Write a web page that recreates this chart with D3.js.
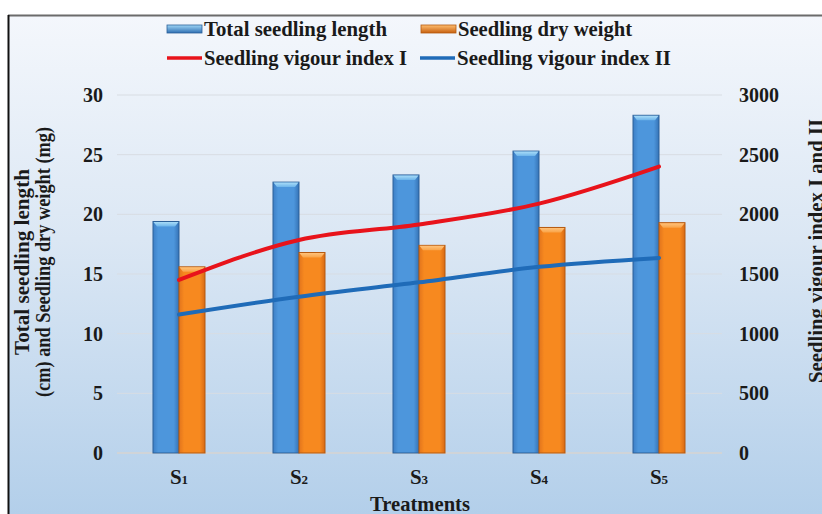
<!DOCTYPE html>
<html>
<head>
<meta charset="utf-8">
<script src="https://cdn.jsdelivr.net/npm/d3@7"></script>
<style>
  html, body { margin: 0; padding: 0; background: #ffffff; }
  svg { display: block; }
  text { font-family: "Liberation Serif", "Times New Roman", serif; font-weight: bold; fill: #1a1a1a; }
</style>
</head>
<body>
<svg id="chart" width="822" height="514"></svg>
<script>
// ---- data ----
const categories = ["S1", "S2", "S3", "S4", "S5"];
const categorySubs = ["1", "2", "3", "4", "5"];
const totalSeedlingLength = [19.4, 22.7, 23.3, 25.3, 28.3];
const seedlingDryWeight = [15.6, 16.8, 17.4, 18.9, 19.3];
const vigourIndexI = [1450, 1785, 1915, 2090, 2400];
const vigourIndexII = [1160, 1310, 1430, 1560, 1635];
const leftTicks = [0, 5, 10, 15, 20, 25, 30];
const rightTicks = [0, 500, 1000, 1500, 2000, 2500, 3000];
const barSeries = ["Total seedling length", "Seedling dry weight"];
const lineSeries = ["Seedling vigour index I", "Seedling vigour index II"];

const svg = d3.select("#chart");
const W = 822, H = 514;
const plot = { left: 119, right: 719, top: 95, bottom: 453 };

const defs = svg.append("defs");
const bg = defs.append("linearGradient").attr("id", "bg").attr("x1", 0).attr("y1", 0).attr("x2", 0).attr("y2", 1);
bg.append("stop").attr("offset", "0%").attr("stop-color", "#f4f7fc");
bg.append("stop").attr("offset", "45%").attr("stop-color", "#dbe7f4");
bg.append("stop").attr("offset", "100%").attr("stop-color", "#b3cfea");

function barGrad(id, c0, c1, c2) {
  const g = defs.append("linearGradient").attr("id", id).attr("x1", 0).attr("y1", 0).attr("x2", 1).attr("y2", 0);
  g.append("stop").attr("offset", "0%").attr("stop-color", c0);
  g.append("stop").attr("offset", "20%").attr("stop-color", c1);
  g.append("stop").attr("offset", "80%").attr("stop-color", c1);
  g.append("stop").attr("offset", "100%").attr("stop-color", c2);
}
barGrad("gBlue", "#3d7fc6", "#4d96dc", "#3573b6");
barGrad("gOrange", "#e2741c", "#f7891f", "#d86a14");
function capGrad(id, c0, c1) {
  const g = defs.append("linearGradient").attr("id", id).attr("x1", 0).attr("y1", 0).attr("x2", 0).attr("y2", 1);
  g.append("stop").attr("offset", "0%").attr("stop-color", c0);
  g.append("stop").attr("offset", "100%").attr("stop-color", c1);
}
capGrad("cBlue", "#a8dcf8", "#6cb4ea");
capGrad("cOrange", "#ffc27a", "#f9a347");
capGrad("gBlueL", "#9fd6f6", "#2f6fb2");
capGrad("gOrangeL", "#ffbe70", "#c7600f");

// background and frame
svg.append("rect").attr("x", 8).attr("y", 15).attr("width", W - 8).attr("height", H - 15).attr("fill", "url(#bg)");
svg.append("line").attr("x1", 8).attr("x2", W).attr("y1", 15.5).attr("y2", 15.5).attr("stroke", "#6b6b6b").attr("stroke-width", 2);
svg.append("line").attr("x1", 8.5).attr("x2", 8.5).attr("y1", 15).attr("y2", H).attr("stroke", "#111").attr("stroke-width", 2);

// scales
const x = d3.scaleBand().domain(categories).range([plot.left, plot.right]).paddingInner(0.5667).paddingOuter(0.2833);
const xs = d3.scaleBand().domain(barSeries).range([0, x.bandwidth()]);
const yL = d3.scaleLinear().domain([0, 30]).range([plot.bottom, plot.top]);
const yR = d3.scaleLinear().domain([0, 3000]).range([plot.bottom, plot.top]);

// gridlines
svg.append("g").selectAll("line").data(leftTicks).join("line")
  .attr("x1", plot.left - 2).attr("x2", plot.right + 3)
  .attr("y1", d => yL(d)).attr("y2", d => yL(d))
  .attr("stroke", d => d === 0 ? "#d0d4d8" : "#d8dde3").attr("stroke-width", d => d === 0 ? 2 : 1);

// left axis
const axL = d3.axisLeft(yL).tickValues(leftTicks).tickSize(0).tickPadding(0).tickFormat(d3.format("d"));
const gL = svg.append("g").attr("transform", `translate(103,0)`).call(axL);
gL.select(".domain").remove();
gL.selectAll("text").attr("font-size", 20).attr("fill", "#1a1a1a").attr("font-family", "Liberation Serif").attr("font-weight", "bold");

// right axis
const axR = d3.axisRight(yR).tickValues(rightTicks).tickSize(0).tickPadding(0).tickFormat(d3.format("d"));
const gR = svg.append("g").attr("transform", `translate(739,0)`).call(axR);
gR.select(".domain").remove();
gR.selectAll("text").attr("font-size", 20).attr("fill", "#1a1a1a").attr("font-family", "Liberation Serif").attr("font-weight", "bold");

// bars
const barData = [];
categories.forEach((c, i) => {
  barData.push({ cat: c, s: barSeries[0], v: totalSeedlingLength[i], fill: "url(#gBlue)", cap: "url(#cBlue)", edge: "#2c6099" });
  barData.push({ cat: c, s: barSeries[1], v: seedlingDryWeight[i], fill: "url(#gOrange)", cap: "url(#cOrange)", edge: "#b55a10" });
});
const bars = svg.append("g").selectAll("g").data(barData).join("g");
bars.append("rect")
  .attr("x", d => x(d.cat) + xs(d.s)).attr("width", xs.bandwidth())
  .attr("y", d => yL(d.v)).attr("height", d => yL(0) - yL(d.v))
  .attr("fill", d => d.fill).attr("stroke", d => d.edge).attr("stroke-width", 1);
bars.append("path")
  .attr("d", d => {
    const x0 = x(d.cat) + xs(d.s), w = xs.bandwidth(), y0 = yL(d.v);
    return `M${x0 + 0.5},${y0 + 0.5}L${x0 + w - 0.5},${y0 + 0.5}L${x0 + w - 4},${y0 + 5}L${x0 + 4},${y0 + 5}Z`;
  })
  .attr("fill", d => d.cap);

// lines
const cx = c => x(c) + x.bandwidth() / 2;
const line = d3.line().x(d => cx(d.c)).y(d => yR(d.v)).curve(d3.curveMonotoneX);
svg.append("path").datum(categories.map((c, i) => ({ c, v: vigourIndexII[i] })))
  .attr("d", line).attr("fill", "none").attr("stroke", "#1f6bb8").attr("stroke-width", 4).attr("stroke-linecap", "round");
svg.append("path").datum(categories.map((c, i) => ({ c, v: vigourIndexI[i] })))
  .attr("d", line).attr("fill", "none").attr("stroke", "#e8131b").attr("stroke-width", 4).attr("stroke-linecap", "round");

// x labels with subscripts
const xl = svg.append("g").selectAll("text").data(categories).join("text")
  .attr("x", d => cx(d)).attr("y", 484).attr("text-anchor", "middle").attr("font-size", 21);
xl.append("tspan").text("S");
xl.append("tspan").attr("font-size", 13).text((d, i) => categorySubs[i]);

svg.append("text").attr("x", 420).attr("y", 511).attr("text-anchor", "middle").attr("font-size", 21)
  .attr("textLength", 100).attr("lengthAdjust", "spacingAndGlyphs").text("Treatments");

// left title
const lt = svg.append("text").attr("transform", "translate(29,262) rotate(-90)").attr("text-anchor", "middle").attr("font-size", 21);
lt.append("tspan").attr("x", 0).attr("dy", 0).attr("textLength", 186).attr("lengthAdjust", "spacingAndGlyphs").text("Total seedling length");
lt.append("tspan").attr("x", 0).attr("dy", 21).attr("textLength", 270).attr("lengthAdjust", "spacingAndGlyphs").text("(cm) and Seedling dry weight (mg)");

// right title
svg.append("text").attr("transform", "translate(823,251) rotate(-90)").attr("text-anchor", "middle").attr("font-size", 21)
  .attr("textLength", 264).attr("lengthAdjust", "spacingAndGlyphs").text("Seedling vigour index I and II");

// legend
const lg = svg.append("g");
const legendItems = [
  { name: barSeries[0], type: "bar", fill: "url(#gBlueL)", edge: "#2c6099", x: 167, y: 29, w: 183 },
  { name: barSeries[1], type: "bar", fill: "url(#gOrangeL)", edge: "#b55a10", x: 421, y: 29, w: 174 },
  { name: lineSeries[0], type: "line", color: "#e8131b", x: 167, y: 58, w: 203 },
  { name: lineSeries[1], type: "line", color: "#1f6bb8", x: 420, y: 58, w: 214 }
];
legendItems.forEach(it => {
  if (it.type === "bar") {
    lg.append("rect").attr("x", it.x).attr("y", it.y - 4).attr("width", 35).attr("height", 8).attr("fill", it.fill).attr("stroke", it.edge).attr("stroke-width", 0.8);
  } else {
    lg.append("line").attr("x1", it.x).attr("x2", it.x + 35).attr("y1", it.y).attr("y2", it.y).attr("stroke", it.color).attr("stroke-width", 3.5);
  }
  lg.append("text").attr("x", it.x + 37).attr("y", it.y + 7).attr("font-size", 21)
    .attr("textLength", it.w).attr("lengthAdjust", "spacingAndGlyphs").text(it.name);
});
</script>
</body>
</html>
